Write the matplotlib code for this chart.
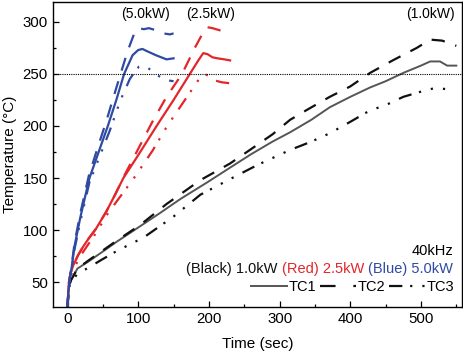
"""Heating curves at 40 kHz for three induction powers (TC1-TC3)."""

import matplotlib

matplotlib.use("Agg")
import matplotlib.pyplot as plt
from matplotlib.ticker import MultipleLocator

plt.rcParams["font.family"] = ["Liberation Sans", "DejaVu Sans"]

# ---- data (time in s, temperature in degC) ----
# 5.0 kW (blue)
blue_tc1_t = [0, 1, 3, 6, 10, 18, 31, 44, 57, 69, 80, 92, 100, 106, 112, 125, 140, 150]
blue_tc1_T = [25, 40, 52, 65, 85, 112, 150, 175, 200, 225, 250, 268, 273, 274, 272, 268, 264, 265]
blue_tc2_t = [0, 1, 3, 6, 10, 18, 30, 43, 55, 66, 75, 85, 95, 100, 108, 115, 125, 135, 145, 150]
blue_tc2_T = [25, 40, 53, 67, 88, 116, 152, 180, 205, 230, 250, 272, 290, 294, 293, 294, 292, 289, 288, 289]
blue_tc3_t = [0, 1, 3, 6, 10, 18, 31, 45, 60, 75, 88, 95, 101, 107, 113, 122, 131, 140, 150]
blue_tc3_T = [25, 40, 50, 63, 82, 108, 146, 170, 196, 225, 245, 252, 257, 258, 256, 252, 247, 244, 243]

# 2.5 kW (red)
red_tc1_t = [0, 1, 2, 4, 8, 15, 22, 30, 40, 55, 68, 79, 100, 126, 150, 173, 185, 192, 198, 205, 212, 222, 230]
red_tc1_T = [25, 40, 50, 58, 66, 76, 84, 92, 101, 118, 135, 150, 172, 200, 225, 250, 263, 270, 269, 266, 265, 264, 263]
red_tc2_t = [0, 1, 2, 4, 8, 15, 22, 30, 40, 55, 68, 80, 100, 120, 140, 162, 180, 192, 197, 205, 215, 230]
red_tc2_T = [25, 40, 50, 58, 66, 76, 84, 92, 101, 118, 135, 152, 178, 204, 228, 250, 275, 290, 295, 294, 292, 289]
red_tc3_t = [0, 1, 2, 4, 8, 15, 22, 30, 42, 55, 70, 94, 120, 141, 165, 188, 194, 200, 207, 218, 230]
red_tc3_T = [25, 38, 47, 55, 62, 71, 79, 87, 99, 114, 128, 150, 176, 200, 224, 247, 250, 248, 244, 242, 241]

# 1.0 kW (black)
blk_tc1_t = [0, 1, 2, 5, 14, 30, 47, 70, 99, 130, 160, 198, 230, 260, 290, 315, 345, 371, 400, 428, 450, 475,
             500, 513, 527, 537, 550]
blk_tc1_T = [25, 38, 46, 52, 63, 70, 78, 89, 102, 116, 130, 146, 160, 173, 185, 194, 206, 218, 228, 237, 243, 251,
             258, 262, 262, 258, 258]
blk_tc2_t = [0, 1, 2, 5, 14, 30, 47, 70, 103, 140, 188, 230, 258, 290, 315, 340, 371, 400, 428, 460, 494, 513,
             530, 550]
blk_tc2_T = [25, 38, 46, 52, 63, 71, 79, 90, 105, 125, 148, 164, 177, 192, 206, 216, 228, 238, 251, 263, 275, 283,
             282, 277]
blk_tc3_t = [0, 1, 2, 5, 14, 30, 47, 70, 108, 150, 188, 230, 270, 315, 345, 371, 400, 428, 450, 475, 500, 517,
             530, 545]
blk_tc3_T = [25, 38, 45, 50, 58, 64, 71, 80, 93, 113, 134, 149, 163, 177, 185, 193, 204, 215, 220, 228, 233, 236,
             236, 234]

power_labels = ["(5.0kW)", "(2.5kW)", "(1.0kW)"]
power_label_t = [110, 202, 513]
threshold = 250

BLUE = "#2f4aa3"
RED = "#e3262b"
GRAY = "#555555"
BLACK = "#111111"

LW = 1.6
DASH = (0, (6, 5))
DASHDOT = (0, (6, 3.5, 1, 4.5, 1, 4.5, 1, 4.5))

fig = plt.figure(figsize=(4.64, 3.55), dpi=100)
ax = fig.add_axes([0.1136, 0.135, 0.882, 0.859])

curves = [
    (blk_tc1_t, blk_tc1_T, GRAY, "-", 1.4),
    (blk_tc2_t, blk_tc2_T, BLACK, DASH, LW),
    (blk_tc3_t, blk_tc3_T, BLACK, DASHDOT, LW),
    (red_tc1_t, red_tc1_T, RED, "-", LW),
    (red_tc2_t, red_tc2_T, RED, DASH, LW),
    (red_tc3_t, red_tc3_T, RED, DASHDOT, LW),
    (blue_tc1_t, blue_tc1_T, BLUE, "-", LW),
    (blue_tc2_t, blue_tc2_T, BLUE, DASH, LW),
    (blue_tc3_t, blue_tc3_T, BLUE, DASHDOT, LW),
]
for t, T, c, ls, lw in curves:
    ax.plot(t, T, color=c, ls=ls, lw=lw)

ax.axhline(threshold, color="black", ls=(0, (1, 1)), lw=0.8)

ax.set_xlim(-21, 558)
ax.set_ylim(26, 319)
ax.xaxis.set_major_locator(MultipleLocator(100))
ax.xaxis.set_minor_locator(MultipleLocator(50))
ax.yaxis.set_major_locator(MultipleLocator(50))
ax.yaxis.set_minor_locator(MultipleLocator(25))
ax.tick_params(which="both", direction="in", labelsize=10.8)
ax.tick_params(which="major", length=4, width=0.9)
ax.tick_params(which="minor", length=2.2, width=0.9)
for sp in ax.spines.values():
    sp.set_linewidth(1.0)

ax.set_xlabel("Time (sec)", fontsize=11, labelpad=8)
ax.set_ylabel("Temperature (\u00b0C)", fontsize=11, labelpad=4)

# power labels across the top
tr = ax.get_xaxis_transform()
for lab, t in zip(power_labels, power_label_t):
    ax.text(t, 0.962, lab, transform=tr, ha="center", va="center", fontsize=10)

# text block in the lower right
ax.text(0.978, 0.184, "40kHz", transform=ax.transAxes, ha="right", va="center", fontsize=10.5)
t_blue = ax.text(0.978, 0.125, "(Blue) 5.0kW", transform=ax.transAxes, ha="right", va="center",
                 fontsize=10.5, color=BLUE)
t_red = ax.annotate("(Red) 2.5kW ", xy=(0, 0.5), xycoords=t_blue, ha="right", va="center",
                    fontsize=10.5, color=RED)
ax.annotate("(Black) 1.0kW ", xy=(0, 0.5), xycoords=t_red, ha="right", va="center",
            fontsize=10.5, color=BLACK)

handles = [
    plt.Line2D([], [], color=GRAY, lw=1.4, ls="-"),
    plt.Line2D([], [], color=BLACK, lw=LW, ls=(0, (7, 8))),
    plt.Line2D([], [], color=BLACK, lw=LW, ls=DASHDOT),
]
ax.legend(handles, ["TC1", "TC2", "TC3"], ncol=3, frameon=False, fontsize=10.5,
          loc="center right", bbox_to_anchor=(0.982, 0.066), handlelength=2.5,
          handletextpad=0.1, columnspacing=0.25, borderpad=0, borderaxespad=0)

fig.savefig("out.png", dpi=100)
